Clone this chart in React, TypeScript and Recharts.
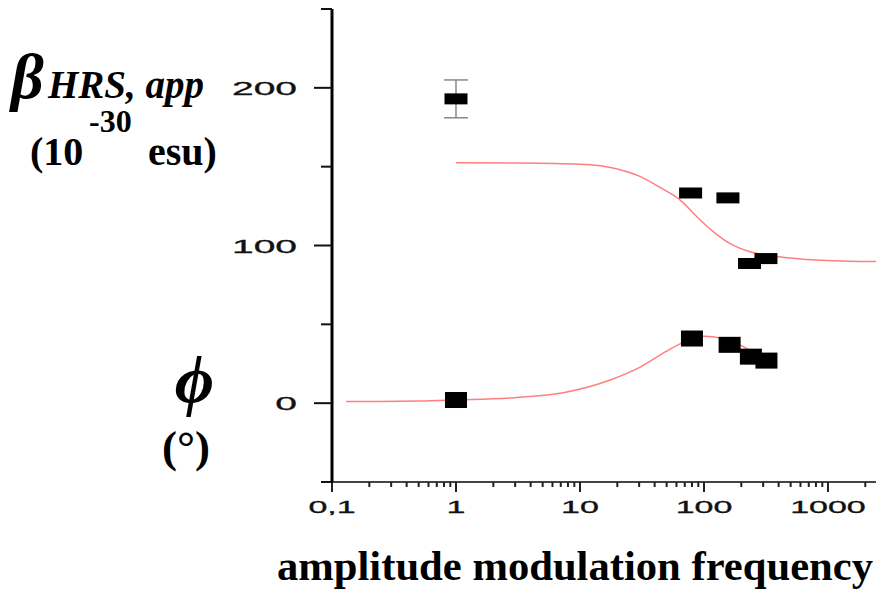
import React from "react";
import {
  ComposedChart,
  Scatter,
  Line,
  XAxis,
  YAxis,
  ErrorBar,
} from "recharts";

// frequency axis (log): labelled decades + unlabelled minor ticks
const freqMajor = [0.1, 1, 10, 100, 1000];
const freqMajorLabels = ["0,1", "1", "10", "100", "1000"];
const freqMinor = [
  0.2, 0.3, 0.4, 0.5, 0.6, 0.7, 0.8, 0.9,
  2, 3, 4, 5, 6, 7, 8, 9,
  20, 30, 40, 50, 60, 70, 80, 90,
  200, 300, 400, 500, 600, 700, 800, 900,
  2000,
];

const yTicks = [-50, 0, 50, 100, 150, 200, 250];
const yLabelled = [0, 100, 200];

// beta_HRS,app measured (10^-30 esu)
const betaFreq = [1, 78, 156, 233, 316];
const betaValue = [193, 133.3, 130.2, 88.6, 91.7];
const betaError = [12, null, null, null, null];

// phase phi measured (deg)
const phiFreq = [1, 80, 161, 239, 319];
const phiValue = [2, 41, 37, 29.5, 27];

// fitted curves
const betaFitFreq = [1, 3, 10, 20, 30, 45, 65, 87, 120, 160, 235, 385, 600, 1000, 2440];
const betaFitValue = [152.5, 152.3, 151.5, 148.5, 144, 136.5, 128.5, 118.5, 108.5, 101.5, 96, 93, 91.5, 90.5, 89.8];

const phiFitFreq = [0.13, 0.5, 1, 3, 7.5, 18, 30, 50, 72, 100, 141, 200, 320];
const phiFitValue = [1, 1.3, 2, 3.5, 6.8, 15, 22.5, 33, 39.5, 42.5, 41, 36.5, 27];

const betaPoints = betaFreq.map((f, i) => ({ f, v: betaValue[i], err: betaError[i] }));
const betaWithErr = betaPoints.filter((d) => d.err != null);
const betaNoErr = betaPoints.filter((d) => d.err == null);
const phiPoints = phiFreq.map((f, i) => ({ f, v: phiValue[i] }));
const betaFit = betaFitFreq.map((f, i) => ({ f, v: betaFitValue[i] }));
const phiFit = phiFitFreq.map((f, i) => ({ f, v: phiFitValue[i] }));

const sans = "'Liberation Sans', Arial, sans-serif";
const serif = "'Liberation Serif', 'Times New Roman', serif";

const XTick = (props: any) => {
  const { x, y, payload } = props;
  const idx = freqMajor.indexOf(payload.value);
  const major = idx >= 0;
  return (
    <g>
      <line x1={x} x2={x} y1={y} y2={y + (major ? 10 : 5)} stroke="#222" strokeWidth={2} />
      {major && (
        <text
          transform={`translate(${x},513) scale(2,1)`}
          textAnchor="middle"
          fontFamily={sans}
          fontSize={17}
          fill="#111"
          stroke="#111"
          strokeWidth={0.3}
        >
          {freqMajorLabels[idx]}
        </text>
      )}
    </g>
  );
};

const YTick = (props: any) => {
  const { x, y, payload } = props;
  const major = yLabelled.includes(payload.value);
  return (
    <g>
      <line x1={x} x2={x - (major ? 18 : 11)} y1={y} y2={y} stroke="#111" strokeWidth={2} />
      {major && (
        <text
          transform={`translate(297,${y + 7}) scale(2.05,1)`}
          textAnchor="end"
          fontFamily={sans}
          fontSize={19}
          fill="#111"
          stroke="#111"
          strokeWidth={0.3}
        >
          {payload.value}
        </text>
      )}
    </g>
  );
};

const WideMark = (props: any) => (
  <rect x={props.cx - 11.5} y={props.cy - 5.5} width={23} height={11} fill="#000" />
);

const SquareMark = (props: any) => (
  <rect x={props.cx - 11} y={props.cy - 8} width={22} height={16} fill="#000" />
);

const App: React.FC = () => {
  return (
    <div style={{ position: "absolute", left: 0, top: 0, width: 876, height: 593, background: "#fff" }}>
      <ComposedChart width={876} height={593} margin={{ top: 9, right: 0, bottom: 51, left: 0 }}>
        <XAxis
          dataKey="f"
          type="number"
          scale="log"
          domain={[0.1, 2440]}
          allowDataOverflow
          ticks={[...freqMajor, ...freqMinor]}
          interval={0}
          tickSize={0}
          tickMargin={0}
          tickLine={false}
          tick={<XTick />}
          height={60}
          axisLine={{ stroke: "#444", strokeWidth: 2 }}
        />
        <YAxis
          dataKey="v"
          type="number"
          domain={[-50, 250]}
          allowDataOverflow
          ticks={yTicks}
          interval={0}
          tickSize={0}
          tickMargin={0}
          tickLine={false}
          tick={<YTick />}
          width={332}
          axisLine={{ stroke: "#000", strokeWidth: 3 }}
        />
        <Scatter data={betaWithErr} dataKey="v" shape={WideMark} isAnimationActive={false}>
          <ErrorBar dataKey="err" direction="y" width={12} stroke="#888" strokeWidth={1.5} />
        </Scatter>
        <Scatter data={betaNoErr} dataKey="v" shape={WideMark} isAnimationActive={false} />
        <Scatter data={phiPoints} dataKey="v" shape={SquareMark} isAnimationActive={false} />
        <Line
          data={betaFit}
          dataKey="v"
          type="monotone"
          stroke="#ff0000"
          strokeOpacity={0.5}
          strokeWidth={1.5}
          dot={false}
          isAnimationActive={false}
        />
        <Line
          data={phiFit}
          dataKey="v"
          type="monotone"
          stroke="#ff0000"
          strokeOpacity={0.5}
          strokeWidth={1.5}
          dot={false}
          isAnimationActive={false}
        />
      </ComposedChart>
      <svg
        width={876}
        height={593}
        style={{ position: "absolute", left: 0, top: 0, pointerEvents: "none" }}
      >
        <text x={11} y={98} fontFamily={serif} fontStyle="italic" fontWeight="bold" fontSize={64} fill="#000">
          β
        </text>
        <text x={48} y={98} fontFamily={serif} fontStyle="italic" fontWeight="bold" fontSize={39} fill="#000">
          HRS, app
        </text>
        <text x={89} y={132} fontFamily={serif} fontWeight="bold" fontSize={32} fill="#000">
          -30
        </text>
        <text x={30} y={165} fontFamily={serif} fontWeight="bold" fontSize={40} fill="#000">
          (10
        </text>
        <text x={148} y={165} fontFamily={serif} fontWeight="bold" fontSize={40} fill="#000">
          esu)
        </text>
        <text x={214} y={403} textAnchor="end" fontFamily={serif} fontStyle="italic" fontWeight="bold" fontSize={68} fill="#000">
          ϕ
        </text>
        <text x={162} y={462} fontFamily={serif} fontWeight="bold" fontSize={45} fill="#000">
          (°)
        </text>
        <text
          x={277}
          y={580}
          fontFamily={serif}
          fontWeight="bold"
          fontSize={42}
          textLength={596}
          lengthAdjust="spacingAndGlyphs"
          fill="#000"
        >
          amplitude modulation frequency
        </text>
      </svg>
    </div>
  );
};

export default App;
